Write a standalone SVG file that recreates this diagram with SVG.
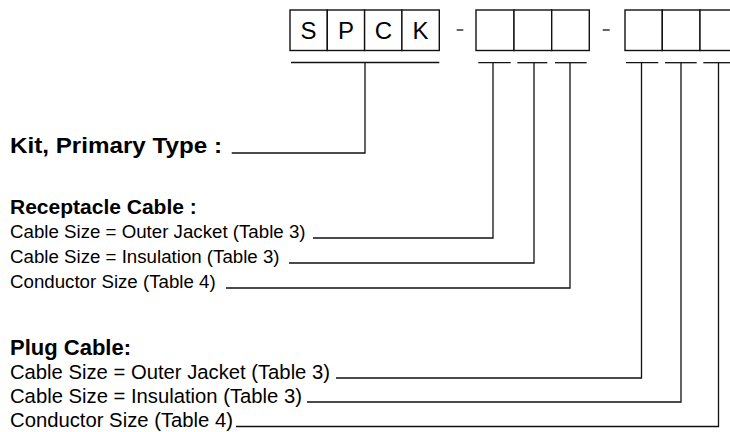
<svg xmlns="http://www.w3.org/2000/svg" width="730" height="432" viewBox="0 0 730 432">
<style>
.box{fill:#fff;stroke:#111;stroke-width:1.4}
.ln{fill:none;stroke:#111;stroke-width:1.3}
.b{font-family:"Liberation Sans",Arial,sans-serif;font-weight:bold;fill:#000}
.r{font-family:"Liberation Sans",Arial,sans-serif;fill:#000}
.rs{font-size:18.7px}
.ps{font-size:20.5px}
.c{font-family:"Liberation Sans",Arial,sans-serif;font-size:24px;fill:#000;text-anchor:middle}
</style>
<rect width="730" height="432" fill="#fff"/>
<g id="code">
<rect class="box" x="290" y="10" width="37.3" height="40.5"/>
<rect class="box" x="327.3" y="10" width="37.3" height="40.5"/>
<rect class="box" x="364.6" y="10" width="37.3" height="40.5"/>
<rect class="box" x="401.9" y="10" width="37.4" height="40.5"/>
<text class="c" x="308.6" y="38.5">S</text>
<text class="c" x="346" y="38.5">P</text>
<text class="c" x="383.3" y="38.5">C</text>
<text class="c" x="420.6" y="38.5">K</text>
<line class="ln" x1="456.7" y1="30" x2="463.3" y2="30"/>
<rect class="box" x="476" y="10" width="38" height="40.5"/>
<rect class="box" x="514" y="10" width="37.7" height="40.5"/>
<rect class="box" x="551.7" y="10" width="37.6" height="40.5"/>
<line class="ln" x1="602.7" y1="30" x2="609.7" y2="30"/>
<rect class="box" x="625" y="10" width="37.3" height="40.5"/>
<rect class="box" x="662.3" y="10" width="37.7" height="40.5"/>
<rect class="box" x="700" y="10" width="37.7" height="40.5"/>
</g>
<g id="labels">
<text class="b" x="10" y="153" font-size="22" textLength="212" lengthAdjust="spacingAndGlyphs">Kit, Primary Type :</text>
<text class="b" x="10" y="214" font-size="21">Receptacle Cable :</text>
<text class="r rs" x="10" y="238">Cable Size = Outer Jacket (Table 3)</text>
<text class="r rs" x="10" y="263">Cable Size = Insulation (Table 3)</text>
<text class="r rs" x="10" y="288">Conductor Size (Table 4)</text>
<text class="b" x="10" y="355" font-size="22" textLength="121" lengthAdjust="spacingAndGlyphs">Plug Cable:</text>
<text class="r ps" x="10" y="379" textLength="320" lengthAdjust="spacingAndGlyphs">Cable Size = Outer Jacket (Table 3)</text>
<text class="r ps" x="10" y="403" textLength="292" lengthAdjust="spacingAndGlyphs">Cable Size = Insulation (Table 3)</text>
<text class="r ps" x="10" y="427" textLength="223" lengthAdjust="spacingAndGlyphs">Conductor Size (Table 4)</text>
</g>
<g id="connectors">
<line class="ln" x1="291" y1="62.5" x2="439.3" y2="62.5"/>
<polyline class="ln" points="365,62.5 365,153 231.7,153"/>
<line class="ln" x1="478.3" y1="62.7" x2="510.7" y2="62.7"/>
<line class="ln" x1="517.3" y1="62.7" x2="547.3" y2="62.7"/>
<line class="ln" x1="555" y1="62.7" x2="586.7" y2="62.7"/>
<line class="ln" x1="626" y1="62.7" x2="658.3" y2="62.7"/>
<line class="ln" x1="665" y1="62.7" x2="696.7" y2="62.7"/>
<line class="ln" x1="703.3" y1="62.7" x2="735" y2="62.7"/>
<polyline class="ln" points="493,62.7 493,238 313,238"/>
<polyline class="ln" points="534,62.7 534,263 289,263"/>
<polyline class="ln" points="570,62.7 570,288 226,288"/>
<polyline class="ln" points="641.5,62.7 641.5,378 336,378"/>
<polyline class="ln" points="681,62.7 681,402 307,402"/>
<polyline class="ln" points="718.5,62.7 718.5,426.5 236,426.5"/>
</g>
</svg>
